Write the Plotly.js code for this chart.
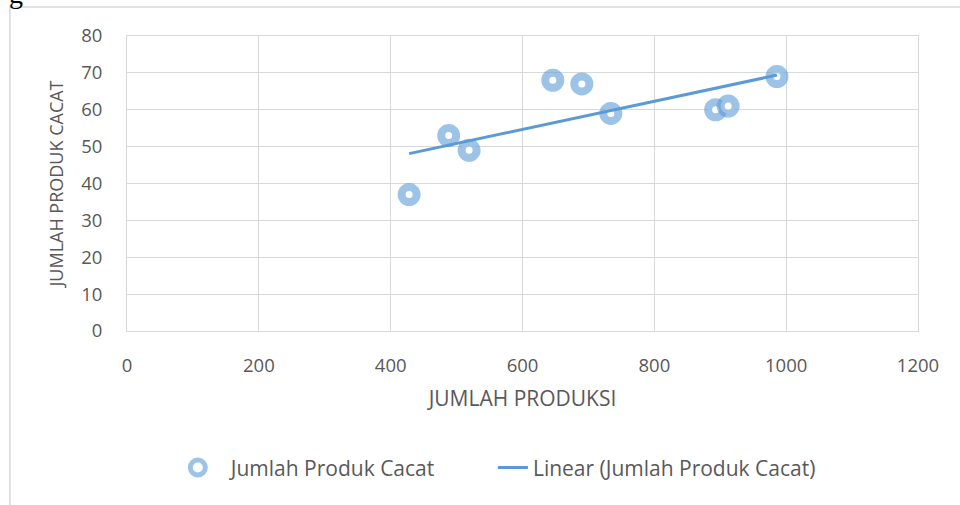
<!DOCTYPE html>
<html>
<head>
<meta charset="utf-8">
<script src="https://cdn.plot.ly/plotly-3.0.1.min.js"></script>
<style>html,body{margin:0;padding:0;background:#fff;}#chart{width:960px;height:505px;}</style>
</head>
<body>
<div id="chart"></div>
<script>
var produksi = [428, 488, 519, 646, 690, 734, 893, 912, 986];
var produkCacat = [37, 53, 49, 68, 67, 59, 60, 61, 69];
var trendX = [428, 986];
var trendY = [48.1, 69.4];
var seriesName = 'Jumlah Produk Cacat';
var trendName = 'Linear (Jumlah Produk Cacat)';
var xTicks = [0, 200, 400, 600, 800, 1000, 1200];
var yTicks = [0, 10, 20, 30, 40, 50, 60, 70, 80];

var FONT = '"Open Sans", sans-serif';
var traces = [
  {x: produksi, y: produkCacat, type: 'scatter', mode: 'markers', name: seriesName, legend: 'legend',
   marker: {symbol: 'circle', size: 15, color: '#ffffff', line: {color: 'rgba(91,155,213,0.6)', width: 8}}},
  {x: trendX, y: trendY, type: 'scatter', mode: 'lines', name: trendName, legend: 'legend2',
   line: {color: '#5B9BD5', width: 3}}
];
var legFont = {family: FONT, size: 21, color: '#595959'};
var layout = {
  width: 960, height: 505,
  margin: {l: 127, r: 42, t: 36, b: 174},
  paper_bgcolor: '#ffffff', plot_bgcolor: '#ffffff',
  font: {family: FONT, size: 18, color: '#595959'},
  showlegend: true,
  legend: {orientation: 'h', x: 0.0478, xanchor: 'left', y: -0.464, yanchor: 'middle',
           font: legFont, bgcolor: 'rgba(0,0,0,0)', itemwidth: 56},
  legend2: {orientation: 'h', x: 0.4626, xanchor: 'left', y: -0.464, yanchor: 'middle',
           font: legFont, bgcolor: 'rgba(0,0,0,0)'},
  xaxis: {range: [0, 1200], tickvals: xTicks, ticktext: xTicks.map(String), showgrid: true,
          gridcolor: '#d9d9d9', gridwidth: 1, zeroline: false, showline: true, linecolor: '#d9d9d9',
          mirror: true, ticks: '', ticklabelstandoff: 18, tickfont: {size: 18.5, color: '#595959'},
          title: {text: 'JUMLAH PRODUKSI', font: {size: 21, color: '#595959'}, standoff: 15}},
  yaxis: {range: [0, 80], tickvals: yTicks, ticktext: yTicks.map(String), showgrid: true,
          gridcolor: '#d9d9d9', gridwidth: 1, zeroline: false, showline: true, linecolor: '#d9d9d9',
          mirror: true, ticks: '', ticklabelstandoff: 20, tickfont: {size: 18.5, color: '#595959'},
          title: {text: 'JUMLAH PRODUK CACAT', font: {size: 18, color: '#595959'}, standoff: 12}},
  shapes: [{type: 'rect', xref: 'paper', yref: 'paper', x0: -0.148, x1: 1.3, y0: -0.8, y1: 1.098,
            line: {color: '#d9d9d9', width: 1.5}, fillcolor: 'rgba(0,0,0,0)', layer: 'below'}],
  annotations: [{xref: 'paper', yref: 'paper', x: -0.152, y: 1.085, xanchor: 'left', yanchor: 'bottom',
                 text: 'g', showarrow: false, font: {family: '"Liberation Serif", serif', size: 28, color: '#000'}}]
};
Plotly.newPlot('chart', traces, layout, {displayModeBar: false, responsive: false});
</script>
</body>
</html>
